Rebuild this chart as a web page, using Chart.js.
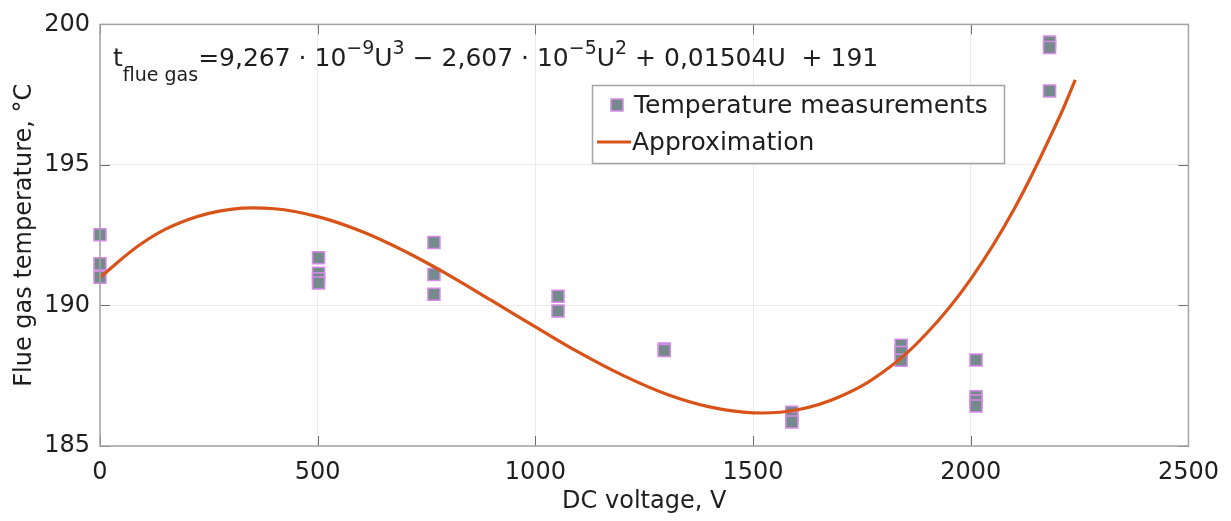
<!DOCTYPE html>
<html>
<head>
<meta charset="utf-8">
<script src="https://cdn.jsdelivr.net/npm/chart.js@4.4.1/dist/chart.umd.min.js"></script>
<style>
  html, body { margin: 0; background: #fff; }
  canvas { display: block; }
</style>
</head>
<body>
<canvas id="flueChart" width="1231" height="521"></canvas>
<script>
/* ══ Flue gas temperature vs DC voltage ══ */

const MEAS_U = [0, 0, 0, 502, 502, 502, 502, 767, 767, 767, 1052, 1052, 1296, 1296,
                1589, 1589, 1589, 1840, 1840, 1840, 2012, 2012, 2012, 2012, 2181, 2181, 2181];
const MEAS_T = [192.52, 191.48, 191.0, 191.7, 191.15, 190.95, 190.8, 192.24, 191.1, 190.4, 190.33, 189.8, 188.45, 188.4,
                186.2, 186.0, 185.85, 188.58, 188.33, 188.05, 188.06, 186.75, 186.6, 186.42, 199.37, 199.18, 197.63];

// Approximation curve, tabulated every 100 V up to its end at 2240 V
const FIT_U = [0, 100, 200, 300, 400, 500, 600, 700, 800, 900, 1000, 1100, 1200,
               1300, 1400, 1500, 1600, 1700, 1800, 1900, 2000, 2100, 2200, 2240];
const FIT_T = [191.0, 192.25, 193.04, 193.42, 193.44, 193.16, 192.64, 191.93, 191.09, 190.17, 189.24, 188.33, 187.52,
               186.85, 186.39, 186.18, 186.28, 186.76, 187.65, 189.03, 190.94, 193.44, 196.58, 198.03];

const X_TICKS = [0, 500, 1000, 1500, 2000, 2500];
const Y_TICKS = [185, 190, 195, 200];

const FONT = "'DejaVu Sans', sans-serif";
const TXT = '#1e1e1e';
const BOX = '#a3a3a3';
const LINE_C = '#d95319';
const MARK_FILL = '#748a8c';
const MARK_EDGE = '#d88ae8';

// Equation pieces: [text, level]  level 0 = base, -1 = subscript, 1 = superscript
const EQ_PARTS = [
  ['t', 0], ['flue gas', -1], ['=9,267 \u00b7 10', 0], ['\u22129', 1], ['U', 0], ['3', 1],
  [' \u2212 2,607 \u00b7 10', 0], ['\u22125', 1], ['U', 0], ['2', 1], [' + 0,01504U  + 191', 0]
];

function drawEquation(cx, x, y) {
  cx.save();
  cx.fillStyle = TXT; cx.textBaseline = 'alphabetic'; cx.textAlign = 'left';
  EQ_PARTS.forEach(([txt, lvl]) => {
    cx.font = (lvl === 0 ? 25 : 19) + 'px ' + FONT;
    const dy = lvl === -1 ? 15 : lvl === 1 ? -12 : 0;
    cx.fillText(txt, x, y + dy);
    x += cx.measureText(txt).width;
  });
  cx.restore();
}

function drawLegend(cx) {
  cx.save();
  cx.fillStyle = '#fff'; cx.fillRect(592.5, 85.5, 412, 78);
  cx.strokeStyle = BOX; cx.lineWidth = 1.5; cx.strokeRect(592.5, 85.5, 412, 78);
  // marker entry
  cx.fillStyle = MARK_FILL; cx.strokeStyle = MARK_EDGE; cx.lineWidth = 1.5;
  cx.fillRect(611, 99, 12, 12); cx.strokeRect(611, 99, 12, 12);
  // line entry
  cx.strokeStyle = LINE_C; cx.lineWidth = 3;
  cx.beginPath(); cx.moveTo(597, 142); cx.lineTo(631, 142); cx.stroke();
  cx.fillStyle = TXT; cx.font = '25px ' + FONT; cx.textBaseline = 'middle';
  cx.fillText('Temperature measurements', 634, 106);
  cx.fillText('Approximation', 632, 143);
  cx.restore();
}

const framePlugin = {
  id: 'matlabFrame',
  afterDraw(chart) {
    const { ctx: cx, chartArea: { left, right, top, bottom }, scales: { x, y } } = chart;
    cx.save();
    // ── inward tick marks on all four sides ──
    cx.strokeStyle = '#6e6e6e'; cx.lineWidth = 1;
    cx.beginPath();
    X_TICKS.forEach(v => {
      const px = Math.round(x.getPixelForValue(v)) + 0.5;
      cx.moveTo(px, bottom); cx.lineTo(px, bottom - 10);
      cx.moveTo(px, top); cx.lineTo(px, top + 10);
    });
    Y_TICKS.forEach(v => {
      const py = Math.round(y.getPixelForValue(v)) + 0.5;
      cx.moveTo(left, py); cx.lineTo(left + 10, py);
      cx.moveTo(right, py); cx.lineTo(right - 10, py);
    });
    cx.stroke();
    // ── axes box ──
    cx.strokeStyle = BOX; cx.lineWidth = 1.5;
    cx.strokeRect(left, top, right - left, bottom - top);
    cx.restore();

    drawEquation(cx, 113, 66);
    drawLegend(cx);
  }
};

new Chart(document.getElementById('flueChart').getContext('2d'), {
  type: 'scatter',
  data: {
    datasets: [
      {
        label: 'Temperature measurements',
        data: MEAS_U.map((u, i) => ({ x: u, y: MEAS_T[i] })),
        pointStyle: 'rect', pointRadius: 8.5,
        backgroundColor: MARK_FILL, borderColor: MARK_EDGE, borderWidth: 1.5,
        clip: false,
        order: 2
      },
      {
        label: 'Approximation',
        type: 'line',
        data: FIT_U.map((u, i) => ({ x: u, y: FIT_T[i] })),
        borderColor: LINE_C, borderWidth: 3.2, pointRadius: 0,
        tension: 0.4, fill: false,
        order: 1
      }
    ]
  },
  options: {
    responsive: false, animation: false,
    layout: { padding: { left: 0, right: 39, top: 21, bottom: 0 } },
    plugins: { legend: { display: false }, tooltip: { enabled: false } },
    scales: {
      x: {
        type: 'linear', min: 0, max: 2500,
        afterBuildTicks: s => { s.ticks = X_TICKS.map(v => ({ value: v })); },
        afterFit: s => { s.height = 75; },
        ticks: { color: TXT, font: { size: 24, family: FONT }, padding: 12, maxRotation: 0, callback: v => String(v) },
        grid: { color: '#ebebeb', drawTicks: false },
        border: { display: false },
        title: { display: true, text: 'DC voltage, V', color: TXT, font: { size: 24, family: FONT }, padding: { top: 0, bottom: 5 } }
      },
      y: {
        type: 'linear', min: 185, max: 200,
        afterBuildTicks: s => { s.ticks = Y_TICKS.map(v => ({ value: v })); },
        afterFit: s => { s.width = 100; },
        ticks: { color: TXT, font: { size: 24, family: FONT }, padding: 10, callback: v => String(v) },
        grid: { color: '#ebebeb', drawTicks: false },
        border: { display: false },
        title: { display: true, text: 'Flue gas temperature, \u00b0C', color: TXT, font: { size: 24, family: FONT }, padding: { top: 10, bottom: 0 } }
      }
    }
  },
  plugins: [framePlugin]
});
</script>
</body>
</html>
